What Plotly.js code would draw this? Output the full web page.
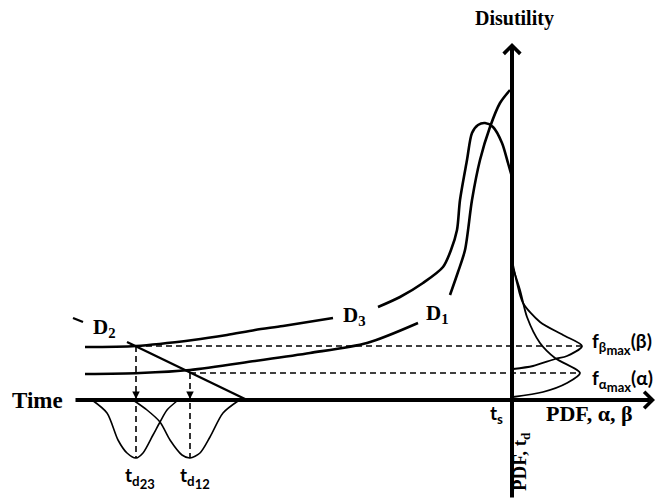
<!DOCTYPE html>
<html><head><meta charset="utf-8">
<script src="https://cdn.plot.ly/plotly-3.0.1.min.js"></script>
<style>html,body{margin:0;padding:0;background:#fff}#c{width:657px;height:499px}</style>
</head><body><div id="c"></div>
<script>
// schematic coordinates (x: time to the right, y: downward screen units)
const d3X = [85,136,193,227,255,283,333,null,378,400,423,443,451,457,460,467,472,478,485,493,502,508,512];
const d3Y = [347,346,340,335,330,326,318,null,307,297,283,267,250,230,200,160,133,125,123,127,143,163,177];
const d1X = [85,140,190,255,310,367,418,null,450,458,465,472,480,490,500,510];
const d1Y = [374,373,370,361,353,343,323,null,295,272,250,200,160,127,103,90];
const d2X = [73,83,null,127,245];
const d2Y = [318,322,null,342,399];
const bell23X = [92,107,118,127,136,143,153,160,167,177];
const bell23Y = [400,413,440,453,458,453,435,422,410,401];
const bell12X = [133,147,160,170,182,190,200,210,223,238];
const bell12Y = [400,410,422,440,455,458,453,437,413,401];
const pdfBetaX = [512,517,523,540,563,582,567,555,533,513];
const pdfBetaY = [260,283,303,322,335,346,356,359,366,369];
const pdfAlphaX = [512,520,527,540,555,580,567,543,513];
const pdfAlphaY = [265,290,317,343,358,373,383,392,397];
const tdX = [136,190];          // t_d23, t_d12
const tdLabels = ['23','12'];
const levelY = [346,373];       // f_beta_max, f_alpha_max levels
const peakX = 582;
const axisY = 400, axisX = 512, axisLeft = 74, axisRight = 655, axisTop = 43, axisBottom = 499;

const blk = '#000';
function ln(x,y,w,dash,shape){return {x:x,y:y,mode:'lines',type:'scatter',hoverinfo:'skip',
  line:{color:blk,width:w,dash:dash||'solid',shape:shape||'spline',smoothing:0.8},connectgaps:false,showlegend:false};}

const traces = [
  ln(d3X,d3Y,2.6), ln(d1X,d1Y,2.6), ln(d2X,d2Y,2.4,null,'linear'),
  ln(bell23X,bell23Y,1.6), ln(bell12X,bell12Y,1.6),
  ln(pdfBetaX,pdfBetaY,1.8), ln(pdfAlphaX,pdfAlphaY,1.8),
  ln([tdX[0],peakX],[levelY[0],levelY[0]],1.6,'6px,4px','linear'),
  ln([tdX[1],peakX-2],[levelY[1],levelY[1]],1.6,'6px,4px','linear'),
  ln([tdX[0],tdX[0]],[levelY[0],458],1.6,'6px,4px','linear'),
  ln([tdX[1],tdX[1]],[levelY[1],458],1.6,'6px,4px','linear')
];

const serif = 'Liberation Serif, Times New Roman, serif';
const sans = 'Lato, Open Sans, sans-serif';
function txt(t,x,y,size,fam,extra){return Object.assign({text:t,x:x,y:y,xref:'x',yref:'y',showarrow:false,
  font:{family:fam,size:size,color:blk,weight:700}},extra||{});}
function arr(x,y,ax,ay,w,head,size){return {x:x,y:y,ax:ax,ay:ay,xref:'x',yref:'y',axref:'x',ayref:'y',
  showarrow:true,arrowhead:head,arrowwidth:w,arrowsize:size,arrowcolor:blk,text:'',standoff:0,startstandoff:0};}
function nest(base,sub1,sub2){return base+'<sub>'+sub1+'<sub><span style="font-size:13px">'+sub2+'</span></sub></sub>';}

const annotations = [
  arr(axisRight,axisY,axisLeft,axisY,4,4,0.8),
  arr(axisX,axisTop,axisX,axisBottom,4,4,0.8),
  arr(tdX[0],axisY-1,tdX[0],axisY-9,1.5,2,1),
  arr(tdX[1],axisY-1,tdX[1],axisY-9,1.5,2,1),
  txt('Disutility',514,18,20,serif),
  txt('Time',37,400,23,serif),
  txt('PDF, α, β',589,413,22,serif),
  txt('PDF, t<sub>d</sub>',521,462,19,serif,{textangle:-90}),
  txt('t<sub>s</sub>',496,414,19,sans),
  txt('D<sub>2</sub>',104,328,21,serif),
  txt('D<sub>3</sub>',354,316,21,serif),
  txt('D<sub>1</sub>',437,314,21,serif),
  txt(nest('f','β','max')+'(β)',590,343,19,sans,{xanchor:'left'}),
  txt(nest('f','α','max')+'(α)',590,380,19,sans,{xanchor:'left'}),
  txt(nest('t','d',tdLabels[0]),140,477,19,sans),
  txt(nest('t','d',tdLabels[1]),195,477,19,sans)
];

const layout = {width:657,height:499,margin:{l:0,r:0,t:0,b:0},paper_bgcolor:'#fff',plot_bgcolor:'#fff',
  xaxis:{range:[0,657],visible:false,fixedrange:true},
  yaxis:{range:[499,0],visible:false,fixedrange:true},
  showlegend:false,annotations:annotations};
Plotly.newPlot('c',traces,layout,{staticPlot:true,displayModeBar:false});
</script></body></html>
